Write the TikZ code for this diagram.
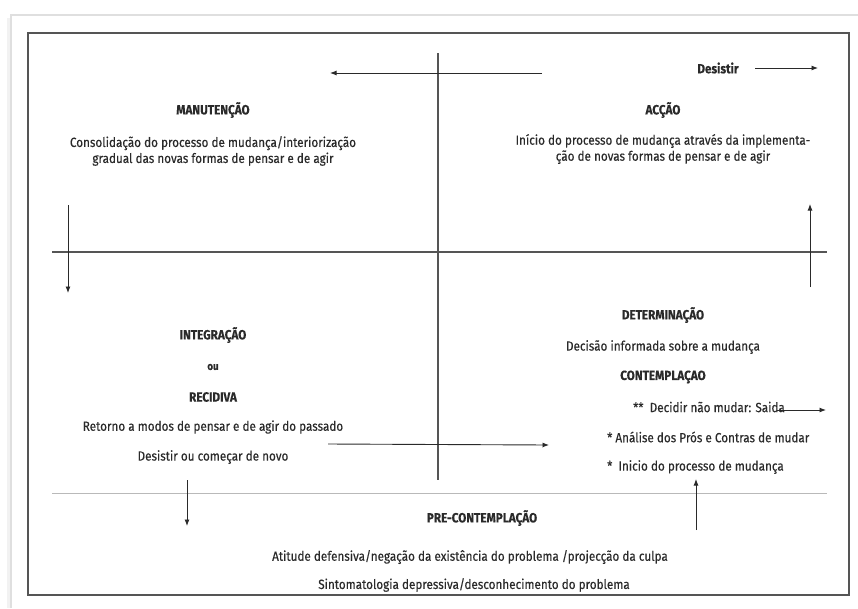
\documentclass[tikz,border=0pt]{standalone}
\usepackage{fontspec}
\setmainfont{Fira Sans}[FakeStretch=0.88, FakeBold=0.35]
\usetikzlibrary{arrows.meta}
\definecolor{ink}{HTML}{2A2A2A}
\definecolor{frame}{HTML}{555555}
\tikzset{
  title/.style={font=\fontsize{13.3}{15}\selectfont\bfseries, text=ink, inner sep=0pt, anchor=center},
  txt/.style={font=\fontsize{13.3}{16}\selectfont, text=ink, inner sep=0pt, anchor=center, align=center},
  conn/.style={draw=ink, line width=0.9pt, -{Latex[length=6.5pt,width=5pt]}},
  axis/.style={draw=frame, line width=1.1pt},
}
\begin{document}
\begin{tikzpicture}[x=1pt,y=-1pt]
\useasboundingbox (0,0) rectangle (858,608);
% outer shadow frame
\draw[draw=gray!25, line width=2pt] (11,608) -- (11,15) -- (858,15);
\draw[draw=gray!10, line width=3pt] (8.5,608) -- (8.5,18);
% inner box
\draw[draw=frame, line width=1.6pt] (28,33) rectangle (849,595);
% axes
\draw[axis] (438,53) -- (438,480);
\draw[axis] (52,252) -- (827,252);
\draw[draw=gray!55, line width=1pt] (52,493) -- (827,493);

% texts top-left
\node[title] (man) at (213,110) {MANUTENÇÃO};
\node[txt] (mant) at (213,151) {Consolidação do processo de mudança/interiorização\\gradual das novas formas de pensar e de agir};
% top-right
\node[title] (acc) at (663,110) {ACÇÃO};
\node[txt] (acct) at (663,149) {Início do processo de mudança através da implementa-\\ção de novas formas de pensar e de agir};
\node[title] (des) at (718,68) {Desistir};
% bottom-left
\node[title] (int) at (213,335) {INTEGRAÇÃO};
\node[title, font=\fontsize{11}{12}\selectfont\bfseries] (ou) at (213,367) {ou};
\node[title] (rec) at (213,397) {RECIDIVA};
\node[txt] (ret) at (213,427) {Retorno a modos de pensar e de agir do passado};
\node[txt] (dcn) at (213,457) {Desistir ou começar de novo};
% bottom-right
\node[title] (det) at (663,315) {DETERMINAÇÃO};
\node[txt] (dec) at (663,347) {Decisão informada sobre a mudança};
\node[title] (con) at (663,377) {CONTEMPLAÇAO};
\node[txt, anchor=west] (sai) at (633,407) {**\ \ Decidir não mudar: Saida};
\node[txt, anchor=west] (ana) at (607,437) {* Análise dos Prós e Contras de mudar};
\node[txt, anchor=west] (ini) at (607,467) {*\ \ Inicio do processo de mudança};
% pre-contemplation
\node[title] (pre) at (482,518) {PRE-CONTEMPLAÇÃO};
\node[txt] (ati) at (470,557) {Atitude defensiva/negação da existência do problema /projecção da culpa};
\node[txt] (sin) at (474,585) {Sintomatologia depressiva/desconhecimento do problema};

% connector endpoints
\coordinate (a1s) at (542,73);  \coordinate (a1e) at (330,73);
\coordinate (a2s) at (755,68);  \coordinate (a2e) at (818,68);
\coordinate (a3s) at (68,205);  \coordinate (a3e) at (68,293);
\coordinate (a4s) at (810,287); \coordinate (a4e) at (810,204);
\coordinate (a5s) at (328,444); \coordinate (a5e) at (549,445);
\coordinate (a6s) at (187,480); \coordinate (a6e) at (187,526);
\coordinate (a7s) at (696,530); \coordinate (a7e) at (696,479);
\coordinate (a8s) at (777,410); \coordinate (a8e) at (826,410);

\draw[conn] (a1s) -- (a1e);
\draw[conn] (a2s) -- (a2e);
\draw[conn] (a3s) -- (a3e);
\draw[conn] (a4s) -- (a4e);
\draw[conn] (a5s) -- (a5e);
\draw[conn] (a6s) -- (a6e);
\draw[conn] (a7s) -- (a7e);
\draw[conn] (a8s) -- (a8e);
\end{tikzpicture}
\end{document}
